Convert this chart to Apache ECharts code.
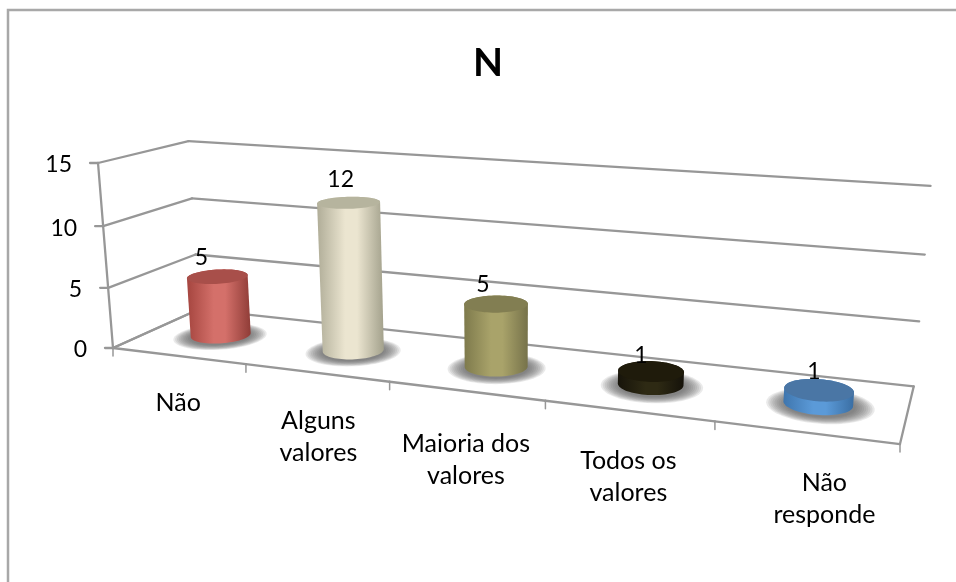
<!DOCTYPE html>
<html>
<head>
<meta charset="utf-8">
<style>html,body{margin:0;padding:0;background:#fff}#c{width:956px;height:582px}</style>
<script src="https://cdn.jsdelivr.net/npm/echarts@6/dist/echarts.min.js"></script>
</head>
<body>
<div id="c"></div>
<script>
const titleText = 'N';
const categories = ['Não', 'Alguns\nvalores', 'Maioria dos\nvalores', 'Todos os\nvalores', 'Não\nresponde'];
const values = [5, 12, 5, 1, 1];
const yTicks = [0, 5, 10, 15];
const bodyColors = [
  ['#a5453f', '#d4706a', '#8f3c37'],
  ['#b0ad98', '#ebe5d0', '#a3a18c'],
  ['#7e7a4c', '#a9a36a', '#76724a'],
  ['#17140a', '#2e2a14', '#15120a'],
  ['#3f76ae', '#5b9ad8', '#3a6ea3']
];
const topColors = ['#a84f4a', '#b6b49e', '#827e52', '#1f1b0b', '#4a76a5'];

// layout of the perspective box
const O = [113, 348], Au = [618.7, 13], Av = [-18.56, -190.96], Ad = [106.9, -6.29];
const pu = -0.187, pv = -0.03654, pd = 0.1048;
const project = (u, v, d) => {
  const w = 1 + u * pu + v * pv + d * pd;
  return [(O[0] + u * Au[0] + v * Av[0] + d * Ad[0]) / w,
          (O[1] + u * Au[1] + v * Av[1] + d * Ad[1]) / w];
};
const GRID_LINE = '#979797';
const RU = 0.0395, RD = 0.2, DC = 0.5;
const TEXT = { fontFamily: 'Lato', fontSize: 25, fill: '#000' };
const NUM = { fontFamily: 'Lato', fontSize: 23, fill: '#000' };
const catNudge = [[0, 0], [2, 1], [0, 6], [0, 3], [19, 3]];
const valNudge = [[-16, -19], [-8, -23], [-13, -19], [-10, -16], [-5, -18]];

const toUV = (params, api, pt) => {
  const r = params.coordSys;
  return [(pt[0] - r.x) / r.width, (r.y + r.height - pt[1]) / r.height];
};
const seg = (a, b, w) => ({ type: 'line', silent: true,
  shape: { x1: a[0], y1: a[1], x2: b[0], y2: b[1] },
  style: { stroke: GRID_LINE, lineWidth: w || 2.3, lineCap: 'round' } });

const circle = (uc, v, d, k) => {
  const pts = [];
  for (let i = 0; i < 72; i++) {
    const t = i / 72 * Math.PI * 2;
    pts.push(project(uc + k * RU * Math.cos(t), v, d + k * RD * Math.sin(t)));
  }
  return pts;
};
const hull = pts => {
  const p = pts.slice().sort((a, b) => a[0] - b[0] || a[1] - b[1]);
  const cr = (o, a, b) => (a[0]-o[0])*(b[1]-o[1]) - (a[1]-o[1])*(b[0]-o[0]);
  const lo = [], up = [];
  for (const q of p) { while (lo.length > 1 && cr(lo[lo.length-2], lo[lo.length-1], q) <= 0) lo.pop(); lo.push(q); }
  for (const q of p.slice().reverse()) { while (up.length > 1 && cr(up[up.length-2], up[up.length-1], q) <= 0) up.pop(); up.push(q); }
  return lo.slice(0, -1).concat(up.slice(0, -1));
};

const wallItem = (params, api) => {
  const val = api.value(1);
  const v = toUV(params, api, api.coord([0, val]))[1];
  const f = project(0, v, 0), b = project(0, v, 1), r = project(1, v, 1);
  return { type: 'group', children: [
    seg(f, b), seg(b, r),
    seg([f[0] - 8, f[1]], f),
    { type: 'text', style: Object.assign({}, NUM, { text: String(val), x: f[0] - 26, y: f[1] + 2, align: 'right', verticalAlign: 'middle' }) }
  ] };
};

const floorItem = (params, api) => {
  const i = api.value(0);
  const half = api.size([1, 0])[0] / 2;
  const c = api.coord([i, 0]);
  const uMid = toUV(params, api, c)[0];
  const u0 = toUV(params, api, [c[0] - half, c[1]])[0];
  const u1 = toUV(params, api, [c[0] + half, c[1]])[0];
  const a = project(u0, 0, 0), b = project(u1, 0, 0), m = project(uMid, 0, 0);
  const kids = [seg(a, b), seg(b, [b[0], b[1] + 8], 1.5)];
  if (i === 0) {
    kids.push(seg(a, [a[0], a[1] + 8], 1.5));
    kids.push(seg(a, project(0, 0, 1)));
    kids.push(seg(project(0, 1, 0), a));
  }
  if (i === categories.length - 1) kids.push(seg(b, project(1, 0, 1)));
  kids.push({ type: 'text', style: Object.assign({}, TEXT, {
    text: categories[i], x: m[0] + catNudge[i][0], y: m[1] + 31 + catNudge[i][1],
    align: 'center', verticalAlign: 'top', lineHeight: 32 }) });
  return { type: 'group', children: kids };
};

const barItem = (params, api) => {
  const i = api.value(0);
  const base = api.coord([i, 0]), tip = api.coord([i, api.value(1)]);
  const u = toUV(params, api, base)[0], v = toUV(params, api, tip)[1];
  const bottom = circle(u, 0, DC, 1), top = circle(u, v, DC, 1);
  const cols = bodyColors[i];
  const kids = [];
  // soft floor shadow: stacked translucent rings
  for (let n = 0; n < 10; n++) {
    const k = 1.55 - n * 0.06;
    kids.push({ type: 'polygon', silent: true,
      shape: { points: circle(u + 0.003, 0, DC - 0.03, k) },
      style: { fill: 'rgba(90,90,90,0.13)' } });
  }
  kids.push(
    { type: 'polygon', silent: true, shape: { points: hull(bottom.concat(top)) },
      style: { fill: new echarts.graphic.LinearGradient(0, 0, 1, 0, [
        { offset: 0, color: cols[0] },
        { offset: 0.42, color: cols[1] },
        { offset: 0.6, color: cols[1] },
        { offset: 1, color: cols[2] }]) } },
    { type: 'polygon', silent: true, shape: { points: top }, style: { fill: topColors[i] } }
  );
  return { type: 'group', children: kids };
};

const labelItem = (params, api) => {
  const i = api.value(0), val = api.value(1);
  const tip = api.coord([i, val]);
  const uv = toUV(params, api, tip);
  const p = project(uv[0], uv[1], DC);
  return { type: 'text', style: Object.assign({}, NUM, {
    text: String(val), x: p[0] + valNudge[i][0], y: p[1] + valNudge[i][1],
    align: 'center', verticalAlign: 'middle' }) };
};

const barData = values.map((v, i) => [i, v]);
const chart = echarts.init(document.getElementById('c'));
chart.setOption({
  animation: false,
  backgroundColor: '#fff',
  title: { text: titleText, left: 483, top: 39, textAlign: 'center',
    textStyle: { fontFamily: 'Lato', fontWeight: 'bold', fontSize: 39, color: '#000' } },
  graphic: [{ type: 'rect', silent: true, z: 0,
    shape: { x: 8, y: 10, width: 1100, height: 800 },
    style: { fill: 'none', stroke: '#a8a8a8', lineWidth: 2.5 } }],
  grid: { left: 100, right: 100, top: 100, bottom: 100 },
  xAxis: { type: 'category', data: categories, show: false },
  yAxis: { type: 'value', min: 0, max: 15, interval: 5, show: false },
  series: [
    { type: 'custom', z: 2, renderItem: wallItem, encode: { x: 0, y: 1 }, silent: true,
      data: yTicks.map(t => [0, t]) },
    { type: 'custom', z: 2, renderItem: floorItem, encode: { x: 0, y: 1 }, silent: true,
      data: categories.map((c, i) => [i, 0]) },
    { type: 'custom', z: 3, renderItem: barItem, encode: { x: 0, y: 1 }, silent: true, data: barData },
    { type: 'custom', z: 4, renderItem: labelItem, encode: { x: 0, y: 1 }, silent: true, data: barData }
  ]
});
</script>
</body>
</html>
